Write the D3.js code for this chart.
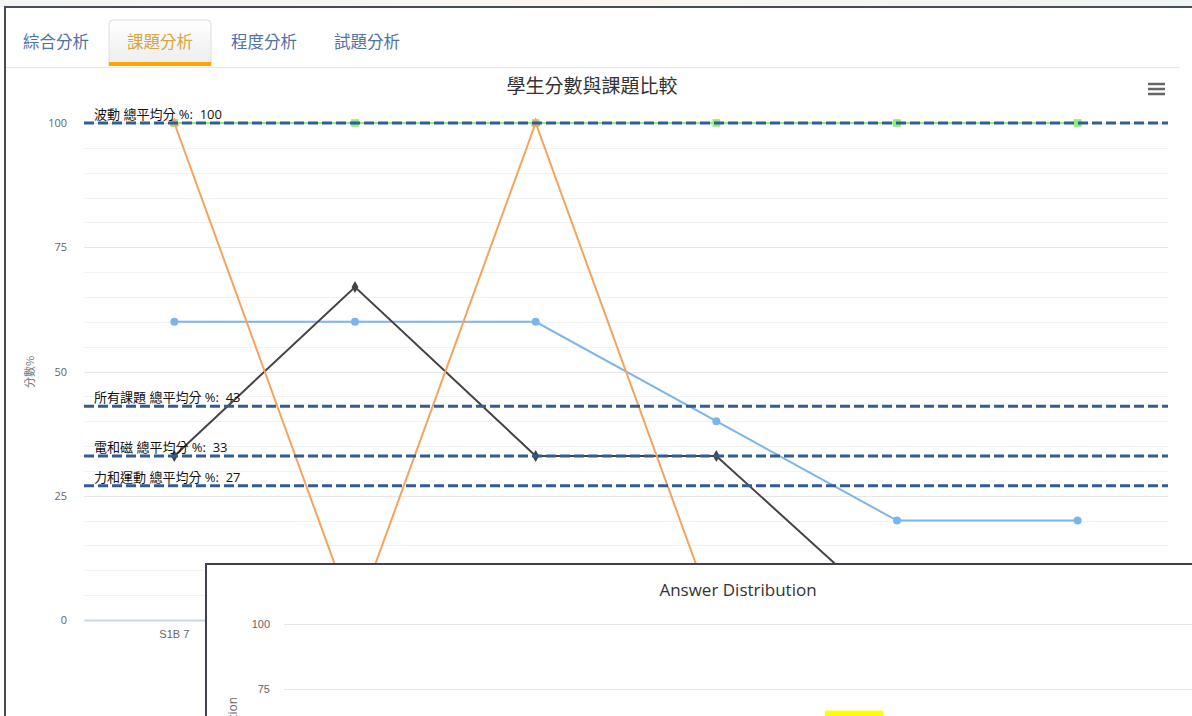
<!DOCTYPE html>
<html><head><meta charset="utf-8">
<script src="https://cdn.jsdelivr.net/npm/d3@7"></script>
<style>
html,body{margin:0;padding:0;background:#fff;overflow:hidden;}
svg{display:block;font-family:"Open Sans","Noto Sans CJK TC",sans-serif;}
</style></head>
<body>
<svg id="c" width="1192" height="716"></svg>
<script>
// ---- data ----
const tabs = ["綜合分析", "課題分析", "程度分析", "試題分析"];
const activeTab = 1;
const chartTitle = "學生分數與課題比較";
const yTitle = "分數%";
const categories = ["S1B 7", "S1B 8", "S1B 9", "S1B 10", "S1B 11", "S1B 12"];
const yTicks = [0, 25, 50, 75, 100];
const seriesBlue = [60, 60, 60, 40, 20, 20];
const seriesBlack = [33, 67, 33, 33, 0, 0];
const seriesGreen = [100, 100, 100, 100, 100, 100];
const seriesOrange = [100, 0, 100, 0, 0, 0];
const plotLineValues = [100, 43, 33, 27];
const plotLineLabels = ["波動 總平均分 %:\u00a0 100", "所有課題 總平均分 %:\u00a0 43", "電和磁 總平均分 %:\u00a0 33", "力和運動 總平均分 %:\u00a0 27"];
const popupTitle = "Answer Distribution";
const popupYTitle = "Percentage of Selection";
const popupCategories = ["A", "B", "C", "D"];
const popupValues = [0, 33.3, 66.7, 0];
const popupTicks = [0, 25, 50, 75, 100];

const svg = d3.select("#c");
const W = 1192, H = 716;

// page frame
const defs = svg.append("defs");
const gTop = defs.append("linearGradient").attr("id","topg").attr("x1",0).attr("x2",1);
gTop.append("stop").attr("offset","0").attr("stop-color","#f3f4f6");
gTop.append("stop").attr("offset","0.5").attr("stop-color","#fbf7ee");
gTop.append("stop").attr("offset","1").attr("stop-color","#eef3f4");
svg.append("rect").attr("x",0).attr("y",0).attr("width",W).attr("height",7).attr("fill","url(#topg)");
svg.append("rect").attr("x",5).attr("y",7).attr("width",1200).attr("height",720)
  .attr("fill","#fff").attr("stroke","#474b5a").attr("stroke-width",2);

// tabs
const tabG = defs.append("linearGradient").attr("id","tabg").attr("x1",0).attr("x2",0).attr("y1",0).attr("y2",1);
tabG.append("stop").attr("offset","0").attr("stop-color","#ffffff");
tabG.append("stop").attr("offset","1").attr("stop-color","#ececec");
const tabCenters = d3.scaleOrdinal().domain(tabs).range([56, 160, 264, 367]);
svg.append("path").attr("d","M109,66 V24 Q109,20 113,20 H207 Q211,20 211,24 V66")
  .attr("fill","url(#tabg)").attr("stroke","#dcdcdc");
svg.append("rect").attr("x",109).attr("y",62).attr("width",102).attr("height",4).attr("fill","#ffa500");
svg.append("line").attr("x1",6).attr("x2",1180).attr("y1",67.5).attr("y2",67.5).attr("stroke","#e3e6ec");
svg.selectAll(".tab").data(tabs).join("text")
  .attr("x", d => tabCenters(d)).attr("y", 48).attr("text-anchor","middle")
  .attr("font-size",16.5).attr("font-family","'Noto Sans CJK TC',sans-serif")
  .attr("fill",(d,i)=> i===activeTab ? "#d9a441" : "#4f72a8").text(d=>d);

// main chart
const plotL = 84, plotR = 1168, plotT = 123, plotB = 620;
const x = d3.scaleBand().domain(categories).range([plotL, plotR]);
const xc = d => x(d) + x.bandwidth()/2;
const y = d3.scaleLinear().domain([0,100]).range([plotB, plotT]);

svg.append("text").attr("x",592).attr("y",93).attr("text-anchor","middle")
  .attr("font-size",19).attr("fill","#333").attr("font-family","'Noto Sans CJK TC',sans-serif").text(chartTitle);
// menu icon
svg.selectAll(".menu").data([0,1,2]).join("line")
  .attr("x1",1148).attr("x2",1165).attr("y1",d=>84+d*5).attr("y2",d=>84+d*5)
  .attr("stroke","#666").attr("stroke-width",2.5);

// grid lines
const gridVals = d3.range(0, 101, 5);
svg.append("g").selectAll("line").data(gridVals).join("line")
  .attr("x1",plotL).attr("x2",plotR).attr("y1",d=>Math.round(y(d))+0.5).attr("y2",d=>Math.round(y(d))+0.5)
  .attr("stroke", d => d%25===0 ? "#e6e6e6" : "#f2f2f2");

// y axis
const yAxis = d3.axisLeft(y).tickValues(yTicks).tickSize(0).tickPadding(0);
const ya = svg.append("g").attr("transform",`translate(67,0)`).call(yAxis);
ya.select(".domain").remove();
ya.selectAll("text").attr("font-size",11).attr("fill","#666").attr("font-family","'Open Sans',sans-serif");
svg.append("text").attr("transform","translate(34,372) rotate(-90)").attr("text-anchor","middle")
  .attr("font-size",11).attr("fill","#777").attr("font-family","'Noto Sans CJK TC',sans-serif").text(yTitle);

// x axis
const xAxis = d3.axisBottom(x).tickSize(0).tickPadding(10);
const xa = svg.append("g").attr("transform",`translate(0,${plotB})`).call(xAxis);
xa.select(".domain").attr("stroke","#ccd6eb").attr("stroke-width",2);
xa.selectAll("text").attr("font-size",11).attr("fill","#666");

// series
const lineGen = d3.line().x((d,i)=>xc(categories[i])).y(d=>y(d));
const series = [
  {v: seriesBlue, c:"#7cb5ec", m:"circle"},
  {v: seriesBlack, c:"#434348", m:"diamond"},
  {v: seriesGreen, c:"#90ed7d", m:"square"},
  {v: seriesOrange, c:"#f7a35c", m:"triangle"}
];
const symMap = {circle: d3.symbolCircle, diamond: d3.symbolDiamond, square: d3.symbolSquare, triangle: d3.symbolTriangle};
series.forEach(s => {
  svg.append("path").attr("d", lineGen(s.v)).attr("fill","none").attr("stroke",s.c).attr("stroke-width",2);
  svg.append("g").selectAll("path").data(s.v).join("path")
    .attr("transform",(d,i)=>`translate(${xc(categories[i])},${y(d)})`)
    .attr("d", d3.symbol().type(symMap[s.m]).size(s.m==="circle"?50:(s.m==="square"?60:40)))
    .attr("fill", s.c);
});

// plot lines
plotLineValues.forEach((v,i) => {
  svg.append("line").attr("x1",plotL).attr("x2",plotR).attr("y1",y(v)).attr("y2",y(v))
    .attr("stroke","#335d92").attr("stroke-width",3).attr("stroke-dasharray","10,4");
  svg.append("text").attr("x",94).attr("y",y(v)-4).attr("font-size",13).attr("fill","#111")
    .attr("font-family","'Open Sans','Noto Sans CJK TC',sans-serif").text(plotLineLabels[i]);
});

// popup
const pop = svg.append("g");
pop.append("rect").attr("x",206).attr("y",564).attr("width",1100).attr("height",300)
  .attr("fill","#fff").attr("stroke","#3d4150").attr("stroke-width",2);
pop.append("text").attr("x",738).attr("y",596).attr("text-anchor","middle")
  .attr("font-size",17).attr("fill","#333").text(popupTitle);
const py = d3.scaleLinear().domain([0,100]).range([884, 624]);
const px = d3.scaleBand().domain(popupCategories).range([284, 1196]);
pop.append("g").selectAll("line").data(popupTicks.filter(t => py(t) < H)).join("line")
  .attr("x1",284).attr("x2",1196).attr("y1",d=>Math.round(py(d))+0.5).attr("y2",d=>Math.round(py(d))+0.5)
  .attr("stroke","#e6e6e6");
const pya = pop.append("g").attr("transform","translate(270,0)")
  .call(d3.axisLeft(py).tickValues(popupTicks.filter(t => py(t) < H - 10)).tickSize(0).tickPadding(0));
pya.select(".domain").remove();
pya.selectAll("text").attr("font-size",11).attr("fill","#666");
pop.append("text").attr("transform","translate(237,697) rotate(-90)").attr("text-anchor","end")
  .attr("font-size",12).attr("fill","#666").text(popupYTitle);
pop.append("g").selectAll("rect").data(popupValues).join("rect")
  .attr("x",(d,i)=>px(popupCategories[i]) + px.bandwidth()*0.372)
  .attr("width", px.bandwidth()*0.255)
  .attr("y", d=>py(d)).attr("height", d=>py(0)-py(d))
  .attr("fill","#ffff00");
</script>
</body></html>
